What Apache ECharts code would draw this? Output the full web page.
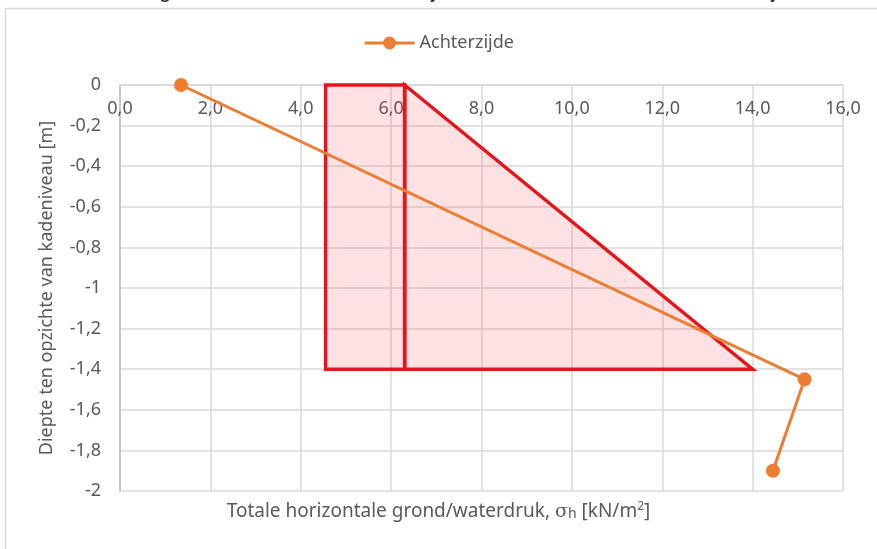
<!DOCTYPE html>
<html>
<head>
<meta charset="utf-8">
<script src="https://cdn.jsdelivr.net/npm/echarts@6/dist/echarts.min.js"></script>
<style>
  html, body { margin: 0; padding: 0; background: #fff; }
  #main { width: 877px; height: 549px; }
</style>
</head>
<body>
<div id="main"></div>
<script>
// gegevens
var achterX = [1.35, 15.15, 14.45];
var achterY = [0, -1.45, -1.9];
var rechthoekX = [4.55, 6.3, 6.3, 4.55];
var rechthoekY = [0, 0, -1.4, -1.4];
var driehoekX = [6.3, 14.0, 6.3];
var driehoekY = [0, -1.4, -1.4];
var xTicks = [0, 2, 4, 6, 8, 10, 12, 14, 16];
var yTicks = [0, -0.2, -0.4, -0.6, -0.8, -1, -1.2, -1.4, -1.6, -1.8, -2];

var font = 'Noto Sans';
var grijs = '#595959';

var myChart = echarts.init(document.getElementById('main'));

function polygonSeries(xs, ys, lineW) {
    return {
        type: 'custom',
        silent: true,
        z: 1,
        data: [0],
        renderItem: function (params, api) {
            var pts = [];
            for (var i = 0; i < xs.length; i++) {
                pts.push(api.coord([xs[i], ys[i]]));
            }
            return {
                type: 'polygon',
                shape: { points: pts },
                style: { fill: 'rgba(250,60,70,0.15)', stroke: '#e8141c', lineWidth: lineW, lineJoin: 'miter' }
            };
        }
    };
}

var option = {
    animation: false,
    textStyle: { fontFamily: font },
    graphic: [
        {
            type: 'rect', left: 3, top: 6,
            shape: { width: 880, height: 560 },
            style: { fill: 'none', stroke: '#d9d9d9', lineWidth: 1.5 }
        },
        {
            type: 'text', left: 8, top: -21,
            style: {
                text: 'Schematische gronddruk: driehoek voorzijde / rechthoek- driehoek achterzijde',
                font: '23px "Liberation Sans"', fill: '#222'
            }
        },
        {
            type: 'text', left: 'center', top: 501,
            style: {
                text: '{a|Totale horizontale grond/waterdruk, }{s|σ}{h|h}{a| [kN/m}{sup|2}{a|]}',
                rich: {
                    a: { fontSize: 19, fill: grijs, fontFamily: font },
                    s: { fontSize: 19, fill: grijs, fontFamily: 'DejaVu Serif' },
                    h: { fontSize: 14, fill: grijs, fontFamily: font, padding: [4, 0, 0, 0] },
                    sup: { fontSize: 12, fill: grijs, fontFamily: font, padding: [0, 0, 10, 0] }
                }
            }
        }
    ],
    legend: {
        top: 29,
        left: 'center',
        data: ['Achterzijde'],
        itemWidth: 50,
        itemHeight: 16,
        lineStyle: { width: 3 },
        textStyle: { color: grijs, fontSize: 18, fontFamily: font }
    },
    grid: { left: 120, right: 34, top: 85, bottom: 58 },
    xAxis: {
        type: 'value',
        position: 'top',
        min: 0, max: 16, interval: 2,
        axisLine: { show: true, onZero: false, lineStyle: { color: '#d9d9d9', width: 1.5 } },
        axisTick: { show: false },
        axisLabel: {
            inside: true, margin: 15, color: grijs, fontSize: 18,
            formatter: function (v) { return v.toFixed(1).replace('.', ','); }
        },
        splitLine: { show: true, lineStyle: { color: '#d9d9d9', width: 1.5 } }
    },
    yAxis: {
        type: 'value',
        min: -2, max: 0, interval: 0.2,
        name: 'Diepte ten opzichte van kadeniveau [m]',
        nameLocation: 'middle',
        nameGap: 64,
        nameTextStyle: { color: grijs, fontSize: 18, fontFamily: font },
        axisLine: { show: true, onZero: false, lineStyle: { color: '#bfbfbf', width: 1.5 } },
        axisTick: { show: false },
        axisLabel: {
            margin: 19, color: grijs, fontSize: 18,
            formatter: function (v) {
                var r = Math.round(v * 10) / 10;
                return String(r).replace('.', ',');
            }
        },
        splitLine: { show: true, lineStyle: { color: '#d9d9d9', width: 1.5 } }
    },
    series: [
        polygonSeries(rechthoekX, rechthoekY, 3.5),
        polygonSeries(driehoekX, driehoekY, 3.5),
        {
            name: 'Achterzijde',
            type: 'line',
            z: 3,
            data: achterX.map(function (x, i) { return [x, achterY[i]]; }),
            symbol: 'circle',
            symbolSize: 14,
            color: '#ed7d31',
            lineStyle: { width: 3, color: '#ed7d31' },
            itemStyle: { color: '#ed7d31' }
        }
    ]
};

myChart.setOption(option);
</script>
</body>
</html>
